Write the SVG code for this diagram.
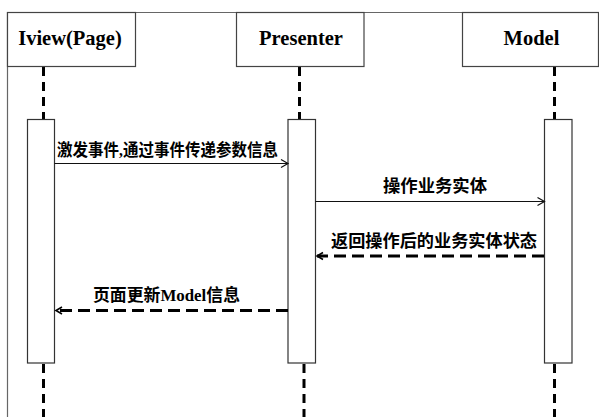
<svg xmlns="http://www.w3.org/2000/svg" width="599" height="417" viewBox="0 0 599 417">
<style>
.box{fill:#fff;stroke:#444;stroke-width:1.2}
.act{fill:#fff;stroke:#333;stroke-width:1.2}
.life{fill:none;stroke:#000;stroke-width:3;stroke-dasharray:9 6}
.msg{fill:none;stroke:#111;stroke-width:1}
.ret{fill:none;stroke:#000;stroke-width:3;stroke-dasharray:12 6}
.hd{font-family:"Liberation Serif","Times New Roman",serif;font-weight:bold;font-size:20.5px;fill:#000;text-anchor:middle}
.lb{font-family:"Liberation Serif","Noto Sans CJK SC",serif;font-weight:bold;font-size:17px;fill:#000}
</style>
<defs>
<marker id="open" markerWidth="10" markerHeight="10" refX="8" refY="5" orient="auto" markerUnits="userSpaceOnUse">
<path d="M1,1 L8,5 L1,9" fill="none" stroke="#111" stroke-width="1.2"/>
</marker>
<marker id="openb" markerWidth="10" markerHeight="10" refX="8" refY="5" orient="auto" markerUnits="userSpaceOnUse">
<path d="M2,1.5 L8,5 L2,8.5" fill="none" stroke="#000" stroke-width="1.6"/>
</marker>
</defs>
<rect width="599" height="417" fill="#fff"/>
<path d="M7.5,417 V12.5 H598.5" fill="none" stroke="#666" stroke-width="1.2"/>
<g id="lifelines">
<line class="life" x1="43.5" y1="67" x2="43.5" y2="119"/>
<line class="life" x1="43.5" y1="364" x2="43.5" y2="417"/>
<line class="life" x1="299.5" y1="67" x2="299.5" y2="119"/>
<line class="life" x1="304" y1="364" x2="304" y2="417"/>
<line class="life" x1="554.5" y1="67" x2="554.5" y2="119"/>
<line class="life" x1="554.5" y1="364" x2="554.5" y2="417"/>
</g>
<g id="iview">
<rect class="box" x="7.5" y="12.5" width="128" height="54"/>
<text class="hd" x="70" y="44.5">Iview(Page)</text>
<rect class="act" x="27.5" y="119.5" width="27" height="243.5"/>
</g>
<g id="presenter">
<rect class="box" x="236.5" y="12.5" width="127.5" height="54"/>
<text class="hd" x="301" y="44.5">Presenter</text>
<rect class="act" x="288" y="119.5" width="27.5" height="243.5"/>
</g>
<g id="model">
<rect class="box" x="462.5" y="12.5" width="136" height="54"/>
<text class="hd" x="531.5" y="44.5">Model</text>
<rect class="act" x="544.5" y="119.5" width="27.5" height="243.5"/>
</g>
<g id="connectors">
<line class="msg" x1="54.5" y1="163.5" x2="288" y2="163.5" marker-end="url(#open)"/>
<line class="msg" x1="315.5" y1="201.5" x2="544.5" y2="201.5" marker-end="url(#open)"/>
<line class="ret" x1="544" y1="256" x2="317" y2="256" marker-end="url(#openb)"/>
<line class="ret" x1="288" y1="310.5" x2="56" y2="310.5" marker-end="url(#openb)"/>
</g>
<g id="labels">
<text class="lb" x="57" y="156" textLength="221" lengthAdjust="spacingAndGlyphs">激发事件,通过事件传递参数信息</text>
<text class="lb" x="383" y="192" textLength="104" lengthAdjust="spacingAndGlyphs">操作业务实体</text>
<text class="lb" x="331" y="247" textLength="206" lengthAdjust="spacingAndGlyphs">返回操作后的业务实体状态</text>
<text class="lb" x="93" y="301" textLength="147" lengthAdjust="spacingAndGlyphs">页面更新Model信息</text>
</g>
</svg>
